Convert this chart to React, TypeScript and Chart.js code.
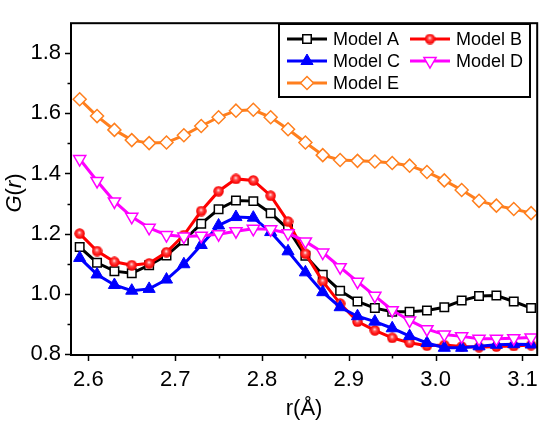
import React, { useEffect, useRef } from 'react';
import { Chart, registerables } from 'chart.js';
import { drawPoint } from 'chart.js/helpers';

Chart.register(...registerables);

const rValues = [2.59, 2.61, 2.63, 2.65, 2.67, 2.69, 2.71, 2.73, 2.75, 2.77, 2.79, 2.81, 2.83, 2.85, 2.87, 2.89, 2.91, 2.93, 2.95, 2.97, 2.99, 3.01, 3.03, 3.05, 3.07, 3.09, 3.11];

const modelA = [1.155, 1.103, 1.075, 1.068, 1.095, 1.127, 1.177, 1.233, 1.281, 1.310, 1.308, 1.268, 1.215, 1.126, 1.063, 1.010, 0.974, 0.952, 0.940, 0.940, 0.944, 0.955, 0.977, 0.992, 0.994, 0.974, 0.952];
const modelB = [1.200, 1.142, 1.106, 1.095, 1.101, 1.138, 1.195, 1.275, 1.341, 1.382, 1.377, 1.326, 1.240, 1.133, 1.041, 0.967, 0.907, 0.878, 0.853, 0.837, 0.827, 0.829, 0.824, 0.822, 0.824, 0.826, 0.829];
const modelC = [1.119, 1.064, 1.029, 1.010, 1.016, 1.047, 1.098, 1.162, 1.227, 1.255, 1.253, 1.205, 1.141, 1.071, 1.005, 0.955, 0.925, 0.907, 0.885, 0.859, 0.836, 0.820, 0.820, 0.825, 0.830, 0.832, 0.831];
const modelD = [1.448, 1.375, 1.307, 1.256, 1.219, 1.195, 1.190, 1.193, 1.198, 1.208, 1.216, 1.214, 1.201, 1.174, 1.137, 1.088, 1.040, 0.993, 0.945, 0.911, 0.882, 0.864, 0.858, 0.850, 0.850, 0.852, 0.854];
const modelE = [1.647, 1.591, 1.545, 1.511, 1.501, 1.503, 1.527, 1.558, 1.587, 1.609, 1.612, 1.587, 1.547, 1.503, 1.461, 1.445, 1.442, 1.440, 1.435, 1.426, 1.405, 1.377, 1.345, 1.309, 1.293, 1.282, 1.268];

const seriesLabels = ['Model A', 'Model B', 'Model C', 'Model D', 'Model E'];
const xAxisMin = 2.58;
const xAxisMax = 3.117;
const yAxisMin = 0.796;
const yAxisMax = 1.9;
const xMajorStep = 0.1;
const yMajorStep = 0.2;

const FONT = '"Liberation Sans", Arial, Helvetica, sans-serif';

function makeSphere(size: number) {
  const c = document.createElement('canvas');
  c.width = size;
  c.height = size;
  const g = c.getContext('2d')!;
  const r = size / 2;
  const grad = g.createRadialGradient(r * 0.95, r * 0.8, 0.3, r, r, r);
  grad.addColorStop(0, '#ffe0e0');
  grad.addColorStop(0.3, '#ff5050');
  grad.addColorStop(0.7, '#ff1010');
  grad.addColorStop(1, '#e80000');
  g.beginPath();
  g.arc(r, r, r - 0.3, 0, Math.PI * 2);
  g.fillStyle = grad;
  g.fill();
  return c;
}

function toPoints(vals: number[]) {
  return rValues.map((r, i) => ({ x: r, y: vals[i] }));
}

const decorPlugin = {
  id: 'decor',
  afterDraw(chart: any) {
    const { ctx, chartArea } = chart;
    const { left, right, top, bottom } = chartArea;
    const xs = chart.scales.x;
    const ys = chart.scales.y;
    ctx.save();
    // frame
    ctx.strokeStyle = '#000';
    ctx.lineWidth = 2;
    ctx.strokeRect(left, top, right - left, bottom - top);
    // ticks
    ctx.lineWidth = 1.5;
    ctx.beginPath();
    const eps = 1e-6;
    for (let k = -2; k < 20; k++) {
      const vMaj = Math.round((2.5 + k * xMajorStep) * 1000) / 1000;
      const vMin = Math.round((2.55 + k * xMajorStep) * 1000) / 1000;
      if (vMaj >= xs.min - eps && vMaj <= xs.max + eps) {
        const px = Math.round(xs.getPixelForValue(vMaj)) + 0.5;
        ctx.moveTo(px, bottom);
        ctx.lineTo(px, bottom + 6);
      }
      if (vMin >= xs.min - eps && vMin <= xs.max + eps) {
        const px = Math.round(xs.getPixelForValue(vMin)) + 0.5;
        ctx.moveTo(px, bottom);
        ctx.lineTo(px, bottom + 3.5);
      }
    }
    for (let k = -2; k < 20; k++) {
      const vMaj = Math.round((0.6 + k * yMajorStep) * 1000) / 1000;
      const vMin = Math.round((0.7 + k * yMajorStep) * 1000) / 1000;
      if (vMaj >= ys.min - eps && vMaj <= ys.max - 0.02) {
        const py = Math.round(ys.getPixelForValue(vMaj)) + 0.5;
        ctx.moveTo(left, py);
        ctx.lineTo(left - 6, py);
      }
      if (vMin >= ys.min - eps && vMin <= ys.max - 0.02) {
        const py = Math.round(ys.getPixelForValue(vMin)) + 0.5;
        ctx.moveTo(left, py);
        ctx.lineTo(left - 3.5, py);
      }
    }
    ctx.stroke();

    // y axis title G(r)
    const parts = [
      { t: 'G', it: true },
      { t: '(', it: false },
      { t: 'r', it: true },
      { t: ')', it: false },
    ];
    const fsz = 22;
    let total = 0;
    const widths: number[] = [];
    parts.forEach((p) => {
      ctx.font = `${p.it ? 'italic ' : ''}${fsz}px ${FONT}`;
      const w = ctx.measureText(p.t).width;
      widths.push(w);
      total += w;
    });
    ctx.save();
    ctx.translate(21, 193);
    ctx.rotate(-Math.PI / 2);
    ctx.fillStyle = '#000';
    ctx.textBaseline = 'alphabetic';
    ctx.textAlign = 'left';
    let cx = -total / 2;
    parts.forEach((p, i) => {
      ctx.font = `${p.it ? 'italic ' : ''}${fsz}px ${FONT}`;
      ctx.fillText(p.t, cx, 0);
      cx += widths[i];
    });
    ctx.restore();

    // x axis title
    ctx.font = `${fsz}px ${FONT}`;
    ctx.fillStyle = '#000';
    ctx.textAlign = 'center';
    ctx.textBaseline = 'alphabetic';
    ctx.fillText('r(Å)', (left + right) / 2, 415);

    // legend
    const lx = 279, ly = 24, lw = 251, lh = 73;
    ctx.fillStyle = '#fff';
    ctx.fillRect(lx, ly, lw, lh);
    ctx.strokeStyle = '#000';
    ctx.lineWidth = 2;
    ctx.strokeRect(lx, ly, lw, lh);
    const cols = [287, 410];
    const rows = [39, 61, 83];
    ctx.font = `18px ${FONT}`;
    ctx.textAlign = 'left';
    ctx.textBaseline = 'middle';
    chart.data.datasets.forEach((ds: any, i: number) => {
      const col = i % 2;
      const row = Math.floor(i / 2);
      const x0 = cols[col];
      const y0 = rows[row];
      ctx.strokeStyle = ds.borderColor;
      ctx.lineWidth = ds.borderWidth;
      ctx.beginPath();
      ctx.moveTo(x0, y0);
      ctx.lineTo(x0 + 40, y0);
      ctx.stroke();
      ctx.fillStyle = ds.pointBackgroundColor;
      ctx.strokeStyle = ds.pointBorderColor;
      ctx.lineWidth = ds.pointBorderWidth;
      drawPoint(ctx, {
        pointStyle: ds.pointStyle,
        rotation: ds.pointRotation || 0,
        radius: ds.pointRadius,
        borderWidth: ds.pointBorderWidth,
      } as any, x0 + 20, y0);
      ctx.fillStyle = '#000';
      ctx.fillText(ds.label, x0 + 46, y0 + 1);
    });
    ctx.restore();
  },
};

export default function App() {
  const ref = useRef<HTMLCanvasElement | null>(null);
  useEffect(() => {
    if (!ref.current) return;
    const sphere = makeSphere(11);
    const chart = new Chart(ref.current, {
      type: 'line',
      data: {
        datasets: [
          {
            label: seriesLabels[0],
            data: toPoints(modelA),
            borderColor: '#000000',
            borderWidth: 3,
            pointStyle: 'rect',
            pointRadius: 6,
            pointBackgroundColor: '#ffffff',
            pointBorderColor: '#000000',
            pointBorderWidth: 1.5,
            order: 5,
          },
          {
            label: seriesLabels[1],
            data: toPoints(modelB),
            borderColor: '#ff0000',
            borderWidth: 3,
            pointStyle: sphere as any,
            pointRadius: 5.5,
            pointBackgroundColor: '#ff0000',
            pointBorderColor: '#ff0000',
            pointBorderWidth: 0,
            order: 4,
          },
          {
            label: seriesLabels[2],
            data: toPoints(modelC),
            borderColor: '#0000ff',
            borderWidth: 3,
            pointStyle: 'triangle',
            pointRadius: 7,
            pointBackgroundColor: '#0000ff',
            pointBorderColor: '#0000ff',
            pointBorderWidth: 1,
            order: 3,
          },
          {
            label: seriesLabels[3],
            data: toPoints(modelD),
            borderColor: '#ff00ff',
            borderWidth: 3,
            pointStyle: 'triangle',
            pointRotation: 180,
            pointRadius: 7,
            pointBackgroundColor: '#ffffff',
            pointBorderColor: '#ff00ff',
            pointBorderWidth: 1.5,
            order: 2,
          },
          {
            label: seriesLabels[4],
            data: toPoints(modelE),
            borderColor: '#ff7f1e',
            borderWidth: 3,
            pointStyle: 'rectRot',
            pointRadius: 6.5,
            pointBackgroundColor: '#ffffff',
            pointBorderColor: '#ff7f1e',
            pointBorderWidth: 1.5,
            order: 1,
          },
        ] as any,
      },
      options: {
        responsive: false,
        animation: false,
        layout: { padding: { left: 0, right: 7, top: 6, bottom: 0 } },
        plugins: { legend: { display: false }, tooltip: { enabled: false } },
        elements: { line: { tension: 0 } },
        scales: {
          x: {
            type: 'linear',
            min: xAxisMin,
            max: xAxisMax,
            afterFit: (s: any) => { s.height = 68; },
            ticks: {
              stepSize: xMajorStep,
              includeBounds: false,
              autoSkip: false,
              maxRotation: 0,
              padding: 12,
              color: '#000',
              font: { family: FONT, size: 22 },
              callback: (v: any) => Number(v).toFixed(1),
            },
            grid: { display: true, drawOnChartArea: false, drawTicks: false },
            border: { display: false },
          },
          y: {
            type: 'linear',
            min: yAxisMin,
            max: yAxisMax,
            afterFit: (s: any) => { s.width = 71; },
            ticks: {
              stepSize: yMajorStep,
              includeBounds: false,
              autoSkip: false,
              padding: 10,
              color: '#000',
              font: { family: FONT, size: 22 },
              callback: (v: any) => Number(v).toFixed(1),
            },
            grid: { display: true, drawOnChartArea: false, drawTicks: false },
            border: { display: false },
          },
        },
      } as any,
      plugins: [decorPlugin],
    });
    return () => chart.destroy();
  }, []);
  return (
    <div style={{ position: 'absolute', left: 0, top: 0, width: 550, height: 423, background: '#fff' }}>
      <canvas ref={ref} width={550} height={423} style={{ display: 'block' }} />
    </div>
  );
}
